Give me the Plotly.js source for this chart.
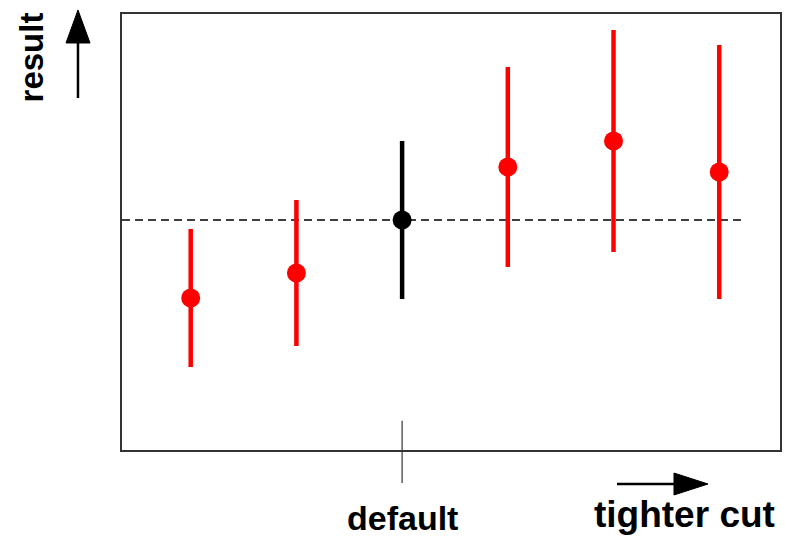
<!DOCTYPE html>
<html>
<head>
<meta charset="utf-8">
<script src="https://cdn.plot.ly/plotly-3.0.1.min.js"></script>
<style>html,body{margin:0;padding:0;background:#fff;}#chart{width:786px;height:543px;}</style>
</head>
<body>
<div id="chart"></div>
<script>
// Data
var cutIndex = [1, 2, 3, 4, 5, 6];
var results = [15.2, 17.7, 23.0, 28.3, 30.9, 27.8];
var errors = [6.9, 7.3, 7.9, 10.0, 11.1, 12.7];
var isDefault = [false, false, true, false, false, false];
var defaultLabel = 'default';
var yLabel = 'result';
var xLabel = 'tighter cut';
var refSpan = [0.35, 6.25];

var redX = [], redY = [], redE = [], blkX = [], blkY = [], blkE = [];
for (var i = 0; i < cutIndex.length; i++) {
  if (isDefault[i]) { blkX.push(cutIndex[i]); blkY.push(results[i]); blkE.push(errors[i]); }
  else { redX.push(cutIndex[i]); redY.push(results[i]); redE.push(errors[i]); }
}
var defaultX = blkX[0], defaultY = blkY[0];

var traces = [
  {x: refSpan, y: [defaultY, defaultY], mode: 'lines', line: {color: 'black', width: 1.6, dash: '8px,5px'}, hoverinfo: 'skip'},
  {x: redX, y: redY, mode: 'markers', marker: {color: '#ff0000', size: 19},
   error_y: {type: 'data', array: redE, visible: true, color: '#ff0000', thickness: 4.5, width: 0}},
  {x: blkX, y: blkY, mode: 'markers', marker: {color: '#000000', size: 19},
   error_y: {type: 'data', array: blkE, visible: true, color: '#000000', thickness: 4.5, width: 0}}
];

var font = {family: 'Liberation Sans, Arial, sans-serif', color: '#000', weight: 'bold'};
function f(size) { return Object.assign({}, font, {size: size}); }

var layout = {
  width: 786, height: 543,
  margin: {l: 122, r: 6, t: 14, b: 93},
  paper_bgcolor: '#fff', plot_bgcolor: '#fff',
  showlegend: false,
  xaxis: {range: [0.35, 6.575], showgrid: false, zeroline: false, showticklabels: false, ticks: '',
          showline: true, mirror: true, linecolor: '#333', linewidth: 2},
  yaxis: {range: [0, 43.6], showgrid: false, zeroline: false, showticklabels: false, ticks: '',
          showline: true, mirror: true, linecolor: '#333', linewidth: 2},
  shapes: [
    {type: 'line', xref: 'x', yref: 'paper', x0: defaultX, x1: defaultX, y0: 0.0672, y1: -0.0757,
     line: {color: '#333', width: 1.2}},
    {type: 'line', xref: 'paper', yref: 'paper', x0: -0.0669, x1: -0.0669, y0: 0.8073, y1: 0.94,
     line: {color: '#000', width: 2.5}},
    {type: 'path', xref: 'paper', yref: 'paper', path: 'M -0.0851 0.9335 L -0.0486 0.9335 L -0.0669 1.0092 Z',
     fillcolor: '#000', line: {color: '#000', width: 1}},
    {type: 'line', xref: 'paper', yref: 'paper', x0: 0.7523, x1: 0.845, y0: -0.078, y1: -0.078,
     line: {color: '#000', width: 2.5}},
    {type: 'path', xref: 'paper', yref: 'paper', path: 'M 0.8389 -0.0528 L 0.8389 -0.1032 L 0.8906 -0.078 Z',
     fillcolor: '#000', line: {color: '#000', width: 1}}
  ],
  annotations: [
    {text: yLabel, xref: 'paper', yref: 'paper', x: -0.137, y: 0.9, textangle: -90, showarrow: false,
     xanchor: 'center', yanchor: 'middle', font: f(33)},
    {text: defaultLabel, xref: 'x', yref: 'paper', x: defaultX, y: -0.156, showarrow: false,
     xanchor: 'center', yanchor: 'middle', font: f(34)},
    {text: xLabel, xref: 'paper', yref: 'paper', x: 0.855, y: -0.147, showarrow: false,
     xanchor: 'center', yanchor: 'middle', font: f(37)}
  ]
};

Plotly.newPlot('chart', traces, layout, {displayModeBar: false, staticPlot: true});
</script>
</body>
</html>
